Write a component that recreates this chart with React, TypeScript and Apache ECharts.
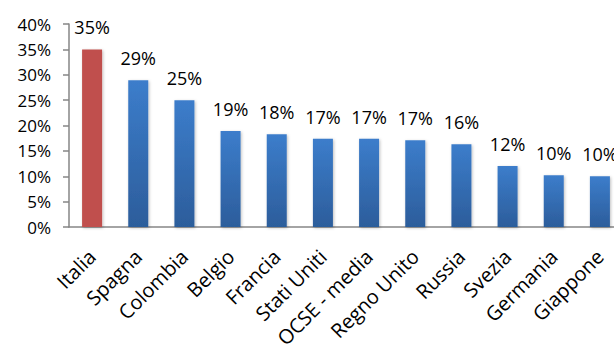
import React, { useEffect, useRef } from "react";
import * as echarts from "echarts";

const categories = ["Italia", "Spagna", "Colombia", "Belgio", "Francia", "Stati Uniti", "OCSE - media", "Regno Unito", "Russia", "Svezia", "Germania", "Giappone"];
const values = [35.0, 28.9, 25.0, 18.9, 18.3, 17.4, 17.4, 17.1, 16.3, 12.0, 10.2, 10.0];
const highlighted = ["Italia"];
const yTicks = { min: 0, max: 40, interval: 5 };

const FONT = "Open Sans";

export default function App() {
  const ref = useRef<HTMLDivElement>(null);
  useEffect(() => {
    document.body.style.margin = "0";
    const chart = echarts.init(ref.current!, null, { renderer: "svg" });
    const blue = new echarts.graphic.LinearGradient(0, 0, 0, 1, [
      { offset: 0, color: "#3c7dcb" },
      { offset: 1, color: "#2c5d9b" },
    ]);
    chart.setOption({
      animation: false,
      grid: { left: 69, top: 24, bottom: 118, width: 554, containLabel: false, outerBoundsMode: "none" },
      xAxis: {
        type: "category",
        data: categories,
        axisLine: { lineStyle: { color: "#868686", width: 1.5 } },
        axisTick: { length: 6, lineStyle: { color: "#868686", width: 1.5 } },
        axisLabel: {
          rotate: 45,
          interval: 0,
          margin: 26,
          color: "#000",
          fontFamily: FONT,
          fontSize: 20,
        },
      },
      yAxis: {
        type: "value",
        min: yTicks.min,
        max: yTicks.max,
        interval: yTicks.interval,
        splitLine: { show: false },
        axisLine: { show: true, lineStyle: { color: "#868686", width: 1.5 } },
        axisTick: { show: true, length: 6, lineStyle: { color: "#868686", width: 1.5 } },
        axisLabel: {
          formatter: "{value}%",
          margin: 18,
          color: "#000",
          fontFamily: FONT,
          fontSize: 17,
        },
      },
      series: [
        {
          type: "bar",
          barWidth: 20,
          data: values.map((v, i) => ({
            value: v,
            itemStyle: {
              color: highlighted.includes(categories[i]) ? "#c0504d" : blue,
              shadowColor: "rgba(0,0,0,0.25)",
              shadowBlur: 3,
              shadowOffsetX: 1,
              shadowOffsetY: 1,
            },
          })),
          label: {
            show: true,
            position: "top",
            distance: 13,
            formatter: (p: any) => Math.round(p.value) + "%",
            color: "#000",
            fontFamily: FONT,
            fontSize: 18,
          },
        },
      ],
    });
    return () => chart.dispose();
  }, []);
  return <div ref={ref} style={{ width: 614, height: 345 }} />;
}
